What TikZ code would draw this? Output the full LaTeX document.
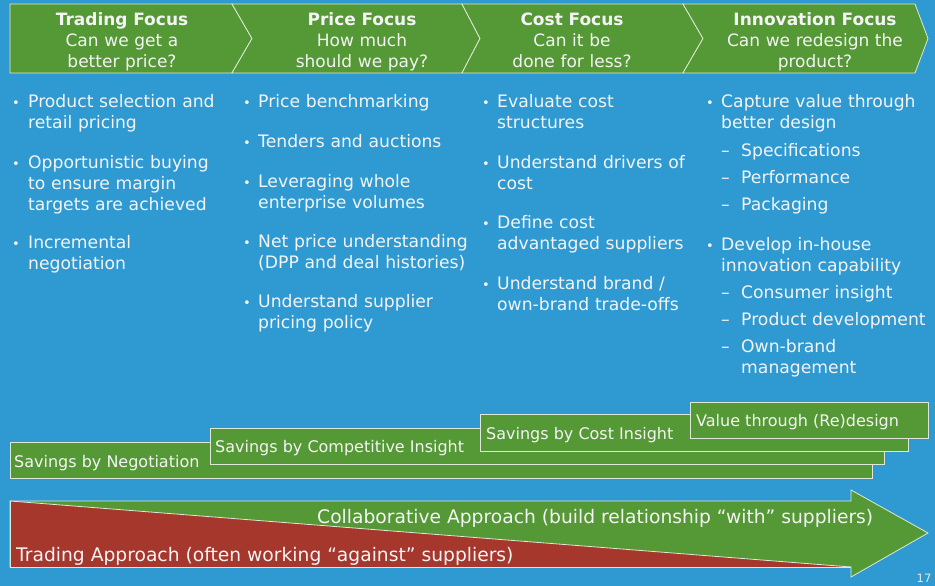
\documentclass[tikz,border=0pt]{standalone}
\usepackage{fontspec}
\setmainfont{DejaVu Sans}
\definecolor{slidebg}{HTML}{2E9AD1}
\definecolor{leafgreen}{HTML}{559836}
\definecolor{brickred}{HTML}{A5372C}
\definecolor{paper}{HTML}{F4F4F4}
\definecolor{rim}{HTML}{DDE8D6}

\begin{document}
\begin{tikzpicture}[x=1pt,y=-1pt,
    every node/.style={inner sep=0pt,text=paper},
    band/.style={fill=leafgreen,draw=rim,line width=0.8pt},
    headtext/.style={anchor=base,text width=220pt,align=center,font=\fontsize{17}{21}\selectfont},
    bulletmark/.style={anchor=base,font=\fontsize{13}{21}\selectfont},
    itemtext/.style={anchor=base west,text width=250pt,align=left,font=\fontsize{17.2}{21}\selectfont},
    tierlabel/.style={anchor=base west,font=\fontsize{16}{20}\selectfont},
    lanelabel/.style={anchor=base west,font=\fontsize{18.7}{21}\selectfont}]
  \useasboundingbox (0,0) rectangle (935,586);
  \fill[slidebg] (0,0) rectangle (935,586);
  % focus chevrons
  \draw[band] (10,4) -- (232,4) -- (252,38.5) -- (232,73) -- (10,73) -- cycle;
  \draw[band] (232,4) -- (462,4) -- (480,38.5) -- (462,73) -- (232,73) -- (252,38.5) -- cycle;
  \draw[band] (462,4) -- (683,4) -- (703,38.5) -- (683,73) -- (462,73) -- (480,38.5) -- cycle;
  \draw[band] (683,4) -- (915,4) -- (928,38.5) -- (915,73) -- (683,73) -- (703,38.5) -- cycle;
  \node[headtext] (trading) at (122,26) {\textbf{Trading Focus}\\Can we get a\\better price?};
  \node[headtext] (price) at (362,26) {\textbf{Price Focus}\\How much\\should we pay?};
  \node[headtext] (cost) at (572,26) {\textbf{Cost Focus}\\Can it be\\done for less?};
  \node[headtext] (innov) at (815,26) {\textbf{Innovation Focus}\\Can we redesign the\\product?};

  % trading column
  \node[bulletmark] (t1b) at (16,107) {•};
  \node[itemtext] (t1) at (28,107) {Product selection and\\retail pricing};
  \node[bulletmark] (t2b) at (16,168) {•};
  \node[itemtext] (t2) at (28,168) {Opportunistic buying\\to ensure margin\\targets are achieved};
  \node[bulletmark] (t3b) at (16,248) {•};
  \node[itemtext] (t3) at (28,248) {Incremental\\negotiation};

  % price column
  \node[bulletmark] (p1b) at (247,107) {•};
  \node[itemtext] (p1) at (258,107) {Price benchmarking};
  \node[bulletmark] (p2b) at (247,147) {•};
  \node[itemtext] (p2) at (258,147) {Tenders and auctions};
  \node[bulletmark] (p3b) at (247,187) {•};
  \node[itemtext] (p3) at (258,187) {Leveraging whole\\enterprise volumes};
  \node[bulletmark] (p4b) at (247,247) {•};
  \node[itemtext] (p4) at (258,247) {Net price understanding\\(DPP and deal histories)};
  \node[bulletmark] (p5b) at (247,307) {•};
  \node[itemtext] (p5) at (258,307) {Understand supplier\\pricing policy};

  % cost column
  \node[bulletmark] (c1b) at (486,107) {•};
  \node[itemtext] (c1) at (497,107) {Evaluate cost\\structures};
  \node[bulletmark] (c2b) at (486,168) {•};
  \node[itemtext] (c2) at (497,168) {Understand drivers of\\cost};
  \node[bulletmark] (c3b) at (486,228) {•};
  \node[itemtext] (c3) at (497,228) {Define cost\\advantaged suppliers};
  \node[bulletmark] (c4b) at (486,289) {•};
  \node[itemtext] (c4) at (497,289) {Understand brand /\\own-brand trade-offs};

  % innovation column
  \node[bulletmark] (i1b) at (710,107) {•};
  \node[itemtext] (i1) at (721,107) {Capture value through\\better design};
  \node[itemtext] (i1d1) at (721,156) {–};
  \node[itemtext] (i1s1) at (741,156) {Specifications};
  \node[itemtext] (i1d2) at (721,183) {–};
  \node[itemtext] (i1s2) at (741,183) {Performance};
  \node[itemtext] (i1d3) at (721,210) {–};
  \node[itemtext] (i1s3) at (741,210) {Packaging};
  \node[bulletmark] (i2b) at (710,250) {•};
  \node[itemtext] (i2) at (721,250) {Develop in-house\\innovation capability};
  \node[itemtext] (i2d1) at (721,298) {–};
  \node[itemtext] (i2s1) at (741,298) {Consumer insight};
  \node[itemtext] (i2d2) at (721,325) {–};
  \node[itemtext] (i2s2) at (741,325) {Product development};
  \node[itemtext] (i2d3) at (721,352) {–};
  \node[itemtext] (i2s3) at (741,352) {Own-brand\\management};

  % savings staircase
  \draw[band] (10,442) rectangle (872,478);
  \node[tierlabel] (negot) at (14,467) {Savings by Negotiation};
  \draw[band] (210,428) rectangle (884,464);
  \node[tierlabel] (insight) at (215,452) {Savings by Competitive Insight};
  \draw[band] (480,414) rectangle (908,451);
  \node[tierlabel] (costins) at (486,439) {Savings by Cost Insight};
  \draw[band] (690,402) rectangle (928,438);
  \node[tierlabel] (redesign) at (696,426) {Value through (Re)design};

  % approach arrow
  \draw[band] (10,501) -- (851,501) -- (851,490) -- (928,533) -- (851,577)
    -- (851,567) -- (10,567) -- cycle;
  \fill[brickred] (10,501) -- (851,567) -- (10,567) -- cycle;
  \draw[rim,line width=0.8pt] (10,501) -- (851,567);
  \draw[rim,line width=0.8pt] (10,501) -- (10,567) -- (851,567);
  \node[lanelabel] (collab) at (317,523) {Collaborative Approach (build relationship “with” suppliers)};
  \node[lanelabel] (tradapp) at (16,561) {Trading Approach (often working “against” suppliers)};

  \node[anchor=base,font=\fontsize{11.5}{13}\selectfont,text=paper!90!gray] (pageno) at (924,582) {17};
\end{tikzpicture}
\end{document}
